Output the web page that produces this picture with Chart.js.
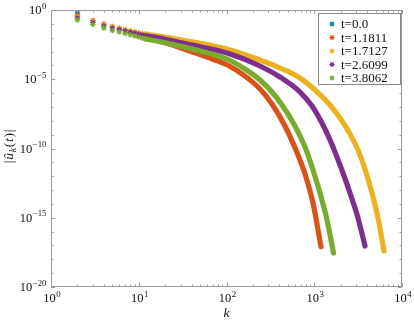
<!DOCTYPE html>
<html><head><meta charset="utf-8">
<script src="https://cdn.jsdelivr.net/npm/chart.js@4/dist/chart.umd.min.js"></script>
<style>html,body{margin:0;padding:0;background:#fff}#wrap{width:414px;height:322px}</style>
</head><body><div id="wrap"><canvas id="c" width="414" height="322"></canvas></div>
<script>
// ---- data ----
const seriesLabels = ['t=0.0', 't=1.1811', 't=1.7127', 't=2.6099', 't=3.8062'];
const seriesColors = ['#0072BD', '#D95319', '#EDB120', '#7E2F8E', '#77AC30'];

// discrete modes drawn as separate markers
const markerK = [2, 3, 4, 5, 6, 7, 8, 9, 10, 11, 12];
const blueMarkerU   = [0.607];
const orangeMarkerU = [0.436, 0.175, 0.0975, 0.0644, 0.0462, 0.0331, 0.0237, 0.0185, 0.0144, 0.0112, 0.0095];
const yellowMarkerU = [0.339, 0.161, 0.0898, 0.0644, 0.0501, 0.0404, 0.0331, 0.0280, 0.0237, 0.0208, 0.0185];
const purpleMarkerU = [0.264, 0.125, 0.070, 0.0501, 0.0391, 0.0315, 0.0258, 0.0218, 0.0185, 0.0157, 0.0137];
const greenMarkerU  = [0.190, 0.0898, 0.0501, 0.0331, 0.0258, 0.0201, 0.0162, 0.0133, 0.0112, 0.0095, 0.00806];

// dense part (markers merge into a thick band)
const orangeK = [12, 20, 38, 50, 74, 110, 162, 241, 330, 464, 653, 785, 968, 1194];
const orangeU = [9.51e-3, 4.36e-3, 1.10e-3, 6.12e-4, 2.45e-4, 8.33e-5, 1.72e-5, 1.98e-6, 1.63e-7, 4.21e-9, 3.39e-11, 1.44e-12, 1.16e-14, 8.12e-18];
const yellowK = [12, 20, 38, 50, 110, 241, 407, 688, 1020, 1512, 1965, 2556, 3152, 3787, 4551, 5327, 6236];
const yellowU = [1.85e-2, 1.12e-2, 5.32e-3, 3.94e-3, 1.29e-3, 2.45e-4, 6.49e-5, 1.23e-5, 1.67e-6, 1.38e-7, 1.59e-8, 1.11e-9, 7.79e-11, 3.31e-12, 6.12e-14, 9.59e-16, 3.97e-18];
const purpleK = [12, 20, 38, 50, 110, 241, 407, 688, 943, 1258, 1636, 2126, 2694, 3152, 3787];
const purpleU = [1.37e-2, 7.79e-3, 3.23e-3, 2.24e-3, 6.65e-4, 9.05e-5, 1.45e-5, 1.20e-6, 1.17e-7, 4.97e-9, 1.28e-10, 1.70e-12, 2.26e-14, 9.59e-16, 9.12e-18];
const greenK  = [12, 20, 38, 50, 74, 110, 162, 241, 330, 429, 603, 785, 968, 1163, 1398, 1658];
const greenU  = [8.05e-3, 4.28e-3, 1.72e-3, 1.10e-3, 5.63e-4, 2.26e-4, 5.50e-5, 8.83e-6, 1.20e-6, 1.38e-7, 4.21e-9, 1.28e-10, 2.80e-12, 6.12e-14, 6.88e-16, 2.85e-18];

const xTickExps = [0, 1, 2, 3, 4];
const yTickExps = [0, -5, -10, -15, -20];

// ---- build datasets ----
const markerSets = [blueMarkerU, orangeMarkerU, yellowMarkerU, purpleMarkerU, greenMarkerU];
const lineSets = [[[], []], [orangeK, orangeU], [yellowK, yellowU], [purpleK, purpleU], [greenK, greenU]];
const datasets = [];
seriesLabels.forEach((lab, i) => {
  const col = seriesColors[i];
  datasets.push({
    label: lab,
    data: markerSets[i].map((u, j) => ({x: markerK[j], y: u})),
    pointStyle: 'star', pointRadius: 2.8, pointBorderWidth: 1.1,
    borderColor: col, backgroundColor: col, showLine: false,
    order: 100 - 2 * i
  });
  const [ks, us] = lineSets[i];
  if (ks.length) {
    datasets.push({
      label: lab + ' band',
      data: ks.map((k, j) => ({x: k, y: us[j]})),
      showLine: true, pointRadius: 0, borderWidth: 5.2, borderColor: col,
      backgroundColor: col, cubicInterpolationMode: 'monotone',
      borderCapStyle: 'round', borderJoinStyle: 'round', fill: false,
      order: 100 - 2 * i - 1
    });
  }
});

const SERIF = '"Liberation Serif", "DejaVu Serif", serif';
function drawPow(ctx, exp, x, y, align) {
  const base = '10';
  const sup = exp < 0 ? '\u2212' + (-exp) : String(exp);
  ctx.font = '12.5px ' + SERIF; const wb = ctx.measureText(base).width;
  ctx.font = '8.8px ' + SERIF; const ws = ctx.measureText(sup).width;
  const w = wb + ws + 0.6;
  const x0 = align === 'center' ? x - w / 2 : (align === 'right' ? x - w : x);
  ctx.textAlign = 'left'; ctx.textBaseline = 'alphabetic'; ctx.fillStyle = '#111';
  ctx.font = '12.5px ' + SERIF; ctx.fillText(base, x0, y);
  ctx.font = '8.8px ' + SERIF; ctx.fillText(sup, x0 + wb + 0.6, y - 5.5);
}

const decorPlugin = {
  id: 'decor',
  afterDatasetsDraw(chart) {
    const {ctx, chartArea: {left, right, top, bottom}, scales: {x, y}} = chart;
    ctx.save();
    // frame
    ctx.strokeStyle = '#9a9a9a'; ctx.lineWidth = 1;
    ctx.strokeRect(left + 0.5, top + 0.5, right - left - 1, bottom - top - 1);
    // ticks (inward, all four sides)
    ctx.beginPath();
    for (let d = 0; d <= 4; d++) {
      for (let m = 1; m <= 9; m++) {
        const v = m * Math.pow(10, d);
        if (v > 10000) break;
        const px = Math.round(x.getPixelForValue(v)) + 0.5;
        const len = m === 1 ? 4 : 2.5;
        ctx.moveTo(px, bottom); ctx.lineTo(px, bottom - len);
        ctx.moveTo(px, top); ctx.lineTo(px, top + len);
      }
    }
    for (let e = 0; e >= -20; e--) {
      const py = Math.round(y.getPixelForValue(Math.pow(10, e))) + 0.5;
      const len = e % 5 === 0 ? 4 : 2.5;
      ctx.moveTo(left, py); ctx.lineTo(left + len, py);
      ctx.moveTo(right, py); ctx.lineTo(right - len, py);
    }
    ctx.stroke();
    // tick labels
    xTickExps.forEach(e => drawPow(ctx, e, x.getPixelForValue(Math.pow(10, e)) + 1, bottom + 15, 'center'));
    yTickExps.forEach(e => drawPow(ctx, e, left - 4.5, y.getPixelForValue(Math.pow(10, e)) + 4, 'right'));
    // x title
    ctx.fillStyle = '#111'; ctx.textAlign = 'center'; ctx.textBaseline = 'alphabetic';
    ctx.font = 'italic 13.5px ' + SERIF;
    ctx.fillText('k', (left + right) / 2, 317);
    // y title (rotated)
    ctx.save();
    ctx.translate(13, 146); ctx.rotate(-Math.PI / 2);
    const parts = [
      ['|', '13.5px ', 0], ['û', 'italic 13.5px ', 0], ['k', 'italic 9.5px ', 2.5],
      ['(', '13.5px ', 0], ['t', 'italic 13.5px ', 0], [')', '13.5px ', 0], ['|', '13.5px ', 0]
    ];
    let tw = 0;
    parts.forEach(p => { ctx.font = p[1] + SERIF; tw += ctx.measureText(p[0]).width + 0.8; });
    let cx = -tw / 2;
    ctx.textAlign = 'left';
    parts.forEach(p => { ctx.font = p[1] + SERIF; ctx.fillText(p[0], cx, p[2]); cx += ctx.measureText(p[0]).width + 0.8; });
    ctx.restore();
    // legend
    const lx = 318, ly = 13, lw = 83, lh = 72;
    ctx.fillStyle = '#fff'; ctx.fillRect(lx, ly, lw, lh);
    ctx.strokeStyle = '#8a8a8a'; ctx.lineWidth = 1;
    ctx.strokeRect(lx + 0.5, ly + 0.5, lw - 1, lh - 1);
    seriesLabels.forEach((lab, i) => {
      const cy = 24 + i * 13.5;
      ctx.strokeStyle = seriesColors[i]; ctx.fillStyle = seriesColors[i]; ctx.lineWidth = 1.1;
      Chart.helpers.drawPoint(ctx, {pointStyle: 'star', radius: 2.6, rotation: 0, borderWidth: 1.1}, 332, cy);
      ctx.fillStyle = '#111'; ctx.font = '13px ' + SERIF; ctx.textAlign = 'left'; ctx.textBaseline = 'alphabetic';
      ctx.fillText(lab, 341, cy + 4);
    });
    ctx.restore();
  }
};

new Chart(document.getElementById('c'), {
  type: 'scatter',
  data: {datasets},
  options: {
    responsive: false, animation: false, devicePixelRatio: 1,
    layout: {padding: {top: 10, right: 12, left: 0, bottom: 0}},
    plugins: {legend: {display: false}, tooltip: {enabled: false}},
    scales: {
      x: {
        type: 'logarithmic', min: 1, max: 10000, position: 'bottom',
        grid: {display: false}, border: {display: false}, ticks: {display: false},
        afterFit: s => { s.height = 35; }
      },
      y: {
        type: 'logarithmic', min: 1e-20, max: 1, position: 'left',
        grid: {display: false}, border: {display: false}, ticks: {display: false},
        afterFit: s => { s.width = 51; }
      }
    }
  },
  plugins: [decorPlugin]
});
</script>
</body></html>
